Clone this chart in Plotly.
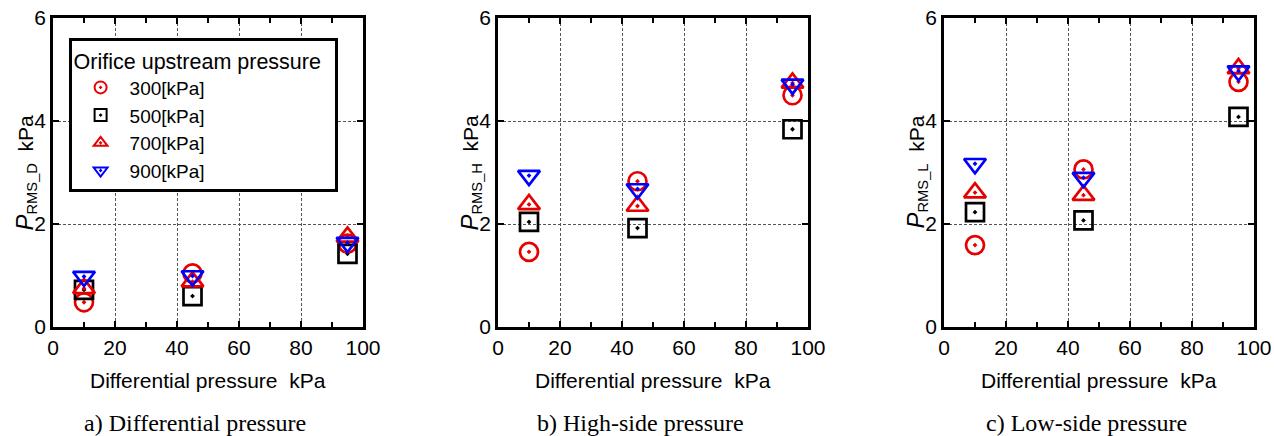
import plotly.graph_objects as go

# Differential pressure across the orifice (kPa)
dp = [10, 45, 95]

# Upstream pressure series
series_names = ["300[kPa]", "500[kPa]", "700[kPa]", "900[kPa]"]
series_symbols = ["circle-open-dot", "square-open-dot",
                  "triangle-up-open-dot", "triangle-down-open-dot"]
series_colors = ["#e60000", "#000000", "#e60000", "#0000ff"]
series_sizes = [18, 18, 19, 19]

# RMS pressure fluctuation (kPa), one list per upstream pressure
rms_d_300 = [0.48, 1.04, 1.62]
rms_d_500 = [0.72, 0.60, 1.42]
rms_d_700 = [0.75, 0.88, 1.75]
rms_d_900 = [0.98, 0.99, 1.64]

rms_h_300 = [1.46, 2.83, 4.50]
rms_h_500 = [2.04, 1.92, 3.84]
rms_h_700 = [2.38, 2.35, 4.74]
rms_h_900 = [2.94, 2.68, 4.71]

rms_l_300 = [1.59, 3.06, 4.76]
rms_l_500 = [2.23, 2.07, 4.08]
rms_l_700 = [2.61, 2.56, 5.02]
rms_l_900 = [3.17, 2.90, 4.97]

panels = [
    ([rms_d_300, rms_d_500, rms_d_700, rms_d_900], "RMS_D", "a) Differential pressure"),
    ([rms_h_300, rms_h_500, rms_h_700, rms_h_900], "RMS_H", "b) High-side pressure"),
    ([rms_l_300, rms_l_500, rms_l_700, rms_l_900], "RMS_L", "c) Low-side pressure"),
]

W, H = 1274, 436
x_px = [(53, 363), (498, 808), (944, 1254)]
y_px = (18, 327)

SANS = "Arial, Liberation Sans, sans-serif"
SERIF = "Times New Roman, Liberation Serif, serif"

fig = go.Figure()
annotations = []

for i, (vals, sub, caption) in enumerate(panels):
    n = "" if i == 0 else str(i + 1)
    for j, yv in enumerate(vals):
        fig.add_trace(go.Scatter(
            x=dp, y=yv, mode="markers", name=series_names[j],
            xaxis="x" + n, yaxis="y" + n,
            showlegend=(i == 0),
            marker=dict(symbol=series_symbols[j], size=series_sizes[j],
                        color=series_colors[j],
                        line=dict(color=series_colors[j], width=2.7)),
        ))
    x0, x1 = x_px[i]
    axis_common = dict(
        automargin=False,
        showline=True, linecolor="black", linewidth=2.6, mirror="allticks",
        ticks="inside", ticklen=6, tickwidth=2, tickcolor="black",
        showgrid=True, gridcolor="#555555", gridwidth=1, griddash="3px,2px",
        zeroline=False,
        tickfont=dict(family=SANS, size=21, color="black"),
    )
    fig.layout["xaxis" + n] = dict(
        axis_common,
        domain=[x0 / W, x1 / W], range=[0, 100], dtick=20,
        anchor="y" + n,
        minor=dict(dtick=10, ticks="inside", ticklen=5, tickwidth=2,
                   tickcolor="black", showgrid=False),
    )
    fig.layout["yaxis" + n] = dict(
        axis_common,
        domain=[1 - y_px[1] / H, 1 - y_px[0] / H], range=[0, 6], dtick=2,
        anchor="x" + n,
    )
    xc = (x0 + x1) / 2
    annotations.append(dict(
        text="Differential pressure  kPa", xref="paper", yref="paper",
        x=xc / W, y=1 - 380 / H, xanchor="center", yanchor="middle",
        showarrow=False, font=dict(family=SANS, size=21, color="black")))
    annotations.append(dict(
        text="<span style='font-size:24px'><i>P</i></span><sub>" + sub + "</sub>  kPa",
        xref="paper", yref="paper", textangle=-90,
        x=(x0 - 28) / W, y=1 - ((y_px[0] + y_px[1]) / 2) / H,
        xanchor="center", yanchor="middle", showarrow=False,
        font=dict(family=SANS, size=21, color="black")))
    annotations.append(dict(
        text=caption, xref="paper", yref="paper",
        x=(xc - 13) / W, y=1 - 423 / H, xanchor="center", yanchor="middle",
        showarrow=False, font=dict(family=SERIF, size=24, color="black")))

fig.update_layout(
    width=W, height=H,
    margin=dict(l=0, r=0, t=0, b=0, autoexpand=False),
    paper_bgcolor="white", plot_bgcolor="white",
    annotations=annotations,
    legend=dict(
        x=69 / W, y=1 - 38 / H, xanchor="left", yanchor="top",
        bgcolor="white", bordercolor="black", borderwidth=2.6,
        font=dict(family=SANS, size=19, color="black"),
        title=dict(text="Orifice upstream pressure  ",
                   font=dict(family=SANS, size=21.5, color="black")),
        itemsizing="constant", itemwidth=48, tracegroupgap=0,
    ),
)

fig.write_html("out.html")
